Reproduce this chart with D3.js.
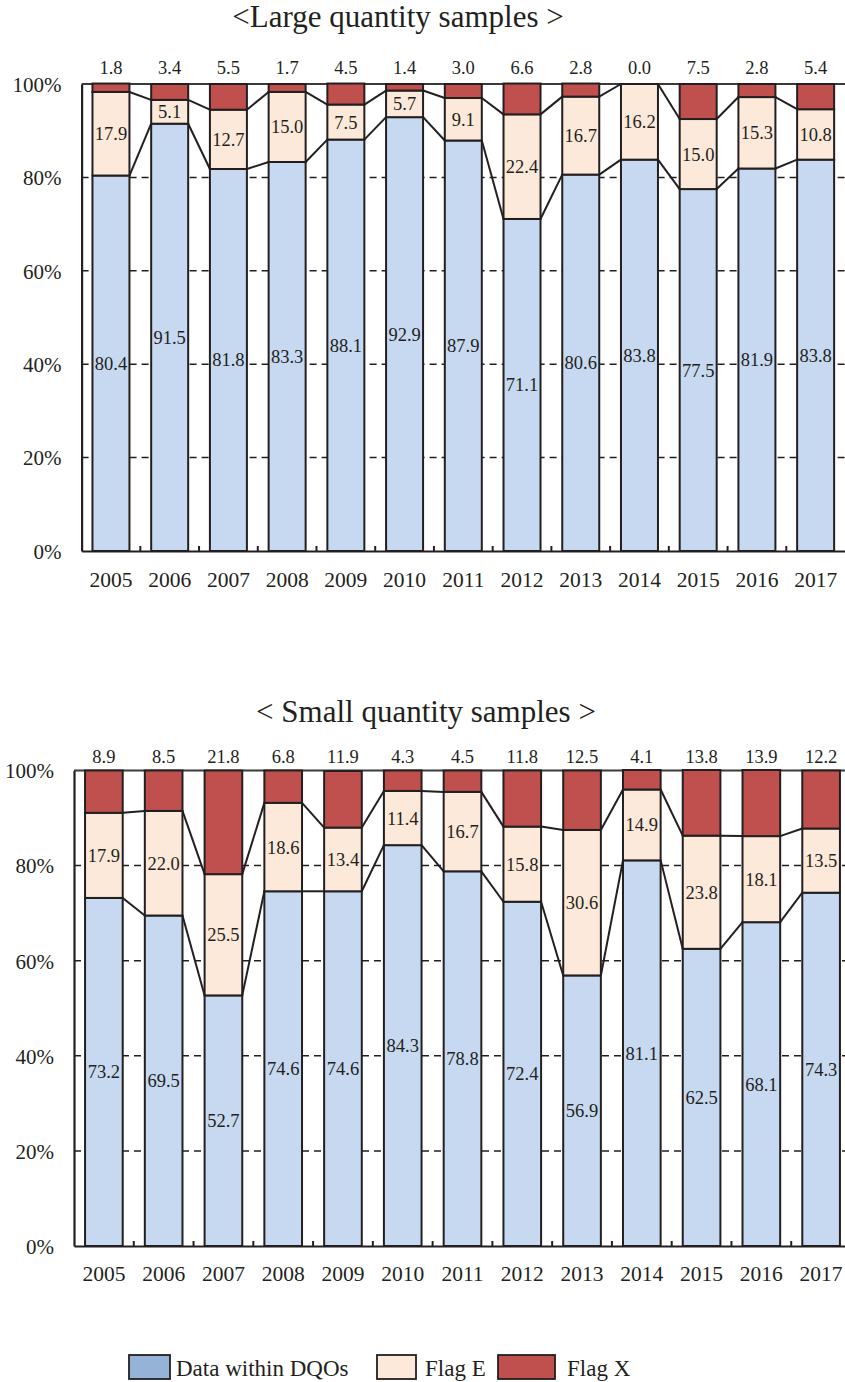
<!DOCTYPE html>
<html><head><meta charset="utf-8">
<script src="https://cdn.jsdelivr.net/npm/d3@7"></script>
<style>body{margin:0;background:#fff}svg{display:block}text{font-family:"Liberation Serif","Times New Roman",serif;fill:#231f20}</style>
</head><body><svg id="c" width="845" height="1382"></svg>
<script>
const years = ["2005","2006","2007","2008","2009","2010","2011","2012","2013","2014","2015","2016","2017"];
const largeDQO = [80.4,91.5,81.8,83.3,88.1,92.9,87.9,71.1,80.6,83.8,77.5,81.9,83.8];
const largeE   = [17.9,5.1,12.7,15.0,7.5,5.7,9.1,22.4,16.7,16.2,15.0,15.3,10.8];
const largeX   = [1.8,3.4,5.5,1.7,4.5,1.4,3.0,6.6,2.8,0.0,7.5,2.8,5.4];
const smallDQO = [73.2,69.5,52.7,74.6,74.6,84.3,78.8,72.4,56.9,81.1,62.5,68.1,74.3];
const smallE   = [17.9,22.0,25.5,18.6,13.4,11.4,16.7,15.8,30.6,14.9,23.8,18.1,13.5];
const smallX   = [8.9,8.5,21.8,6.8,11.9,4.3,4.5,11.8,12.5,4.1,13.8,13.9,12.2];
const yTicks = [0,20,40,60,80,100];
const seriesNames = ["Data within DQOs","Flag E","Flag X"];
const barColors = ["#c6d9f0","#fde9d9","#c0504d"];
const legendColors = ["#95b3d7","#fde9d9","#c0504d"];

const svg = d3.select("#c");
const SERIF = '"Liberation Serif","Times New Roman",serif';

function drawChart(cfg){
  const {title, dqo, e, x, left, right, top, bottom, titleX, titleY, xLabelY, xValOff} = cfg;
  const g = svg.append("g");
  const xs = d3.scaleBand().domain(years).range([left,right]).paddingInner(0.37).paddingOuter(0.185);
  const ys = d3.scaleLinear().domain([0,100]).range([bottom,top]);
  const rows = years.map((yr,i)=>({yr, v:[dqo[i],e[i],x[i]]}));
  const stack = d3.stack().keys([0,1,2]).value((d,k)=>d.v[k]);
  const layers = stack(rows);

  // gridlines
  g.selectAll("line.grid").data(yTicks.filter(t=>t>0 && t<100)).join("line")
    .attr("x1",left).attr("x2",right).attr("y1",d=>ys(d)).attr("y2",d=>ys(d))
    .attr("stroke","#231f20").attr("stroke-width",1.5).attr("stroke-dasharray","7,5");
  g.append("line").attr("x1",left).attr("x2",right).attr("y1",ys(100)).attr("y2",ys(100))
    .attr("stroke","#3a3a3a").attr("stroke-width",1.8);

  // bars
  layers.forEach((layer,k)=>{
    g.selectAll(null).data(layer).join("rect")
      .attr("x",d=>xs(d.data.yr)).attr("width",xs.bandwidth())
      .attr("y",d=>ys(d[1])).attr("height",d=>ys(d[0])-ys(d[1]))
      .attr("fill",barColors[k]).attr("stroke","#231f20").attr("stroke-width",2);
  });

  // connector lines
  [0,1].forEach(k=>{
    const L = layers[k];
    for(let i=0;i<L.length-1;i++){
      g.append("line")
        .attr("x1",xs(years[i])+xs.bandwidth()).attr("y1",ys(L[i][1]))
        .attr("x2",xs(years[i+1])).attr("y2",ys(L[i+1][1]))
        .attr("stroke","#231f20").attr("stroke-width",2);
    }
  });

  // axes
  const yAxis = d3.axisLeft(ys).tickValues(yTicks).tickFormat(d=>d+"%").tickSize(0).tickPadding(20);
  const ya = g.append("g").attr("transform",`translate(${left},0)`).call(yAxis).attr("font-family",SERIF);
  ya.select(".domain").attr("stroke","#231f20").attr("stroke-width",2.2);
  ya.selectAll("text").attr("font-size",21).attr("dy","0.35em").style("font-family",SERIF).attr("fill","#231f20");

  const xAxis = d3.axisBottom(xs).tickSize(0).tickPadding(0);
  const xa = g.append("g").attr("transform",`translate(0,${bottom})`).call(xAxis).attr("font-family",SERIF);
  xa.select(".domain").attr("stroke","#231f20").attr("stroke-width",2.2);
  xa.selectAll("text").attr("font-size",21.5).attr("y",xLabelY-bottom).attr("dy",0).style("font-family",SERIF).attr("fill","#231f20");
  // category boundary ticks
  g.selectAll(null).data(years.slice(1)).join("line")
    .attr("x1",d=>xs(d)-xs.step()*xs.paddingInner()/2).attr("x2",d=>xs(d)-xs.step()*xs.paddingInner()/2)
    .attr("y1",bottom).attr("y2",bottom-5).attr("stroke","#231f20").attr("stroke-width",2);

  // value labels
  const fmt = d3.format(".1f");
  [0,1].forEach(k=>{
    g.selectAll(null).data(layers[k]).join("text")
      .attr("x",d=>xs(d.data.yr)+xs.bandwidth()/2)
      .attr("y",d=>ys((d[0]+d[1])/2)).attr("dy","0.35em")
      .attr("text-anchor","middle").attr("font-size",18.5)
      .text(d=>fmt(d.data.v[k]));
  });
  g.selectAll(null).data(layers[2]).join("text")
    .attr("x",d=>xs(d.data.yr)+xs.bandwidth()/2)
    .attr("y",ys(100)-xValOff)
    .attr("text-anchor","middle").attr("font-size",18.5)
    .text(d=>fmt(d.data.v[2]));

  g.append("text").attr("x",titleX).attr("y",titleY).attr("text-anchor","middle")
    .attr("font-size",31).text(title);
}

drawChart({title:"<Large quantity samples >", dqo:largeDQO, e:largeE, x:largeX,
  left:81.6, right:845, top:84, bottom:551, titleX:398, titleY:27, xLabelY:587, xValOff:10});
drawChart({title:"< Small quantity samples >", dqo:smallDQO, e:smallE, x:smallX,
  left:74, right:851, top:770.5, bottom:1246, titleX:426, titleY:722, xLabelY:1281, xValOff:8});

// legend
const legendItems = [
  {bx:129, bw:41, tx:176},
  {bx:377, bw:39, tx:425},
  {bx:498, bw:57, tx:567}
];
const lg = svg.append("g");
lg.selectAll("rect").data(legendItems).join("rect")
  .attr("x",d=>d.bx).attr("y",1355).attr("width",d=>d.bw).attr("height",24)
  .attr("fill",(d,i)=>legendColors[i]).attr("stroke","#231f20").attr("stroke-width",1.8);
lg.selectAll("text").data(legendItems).join("text")
  .attr("x",d=>d.tx).attr("y",1376).attr("font-size",23).text((d,i)=>seriesNames[i]);
</script></body></html>
